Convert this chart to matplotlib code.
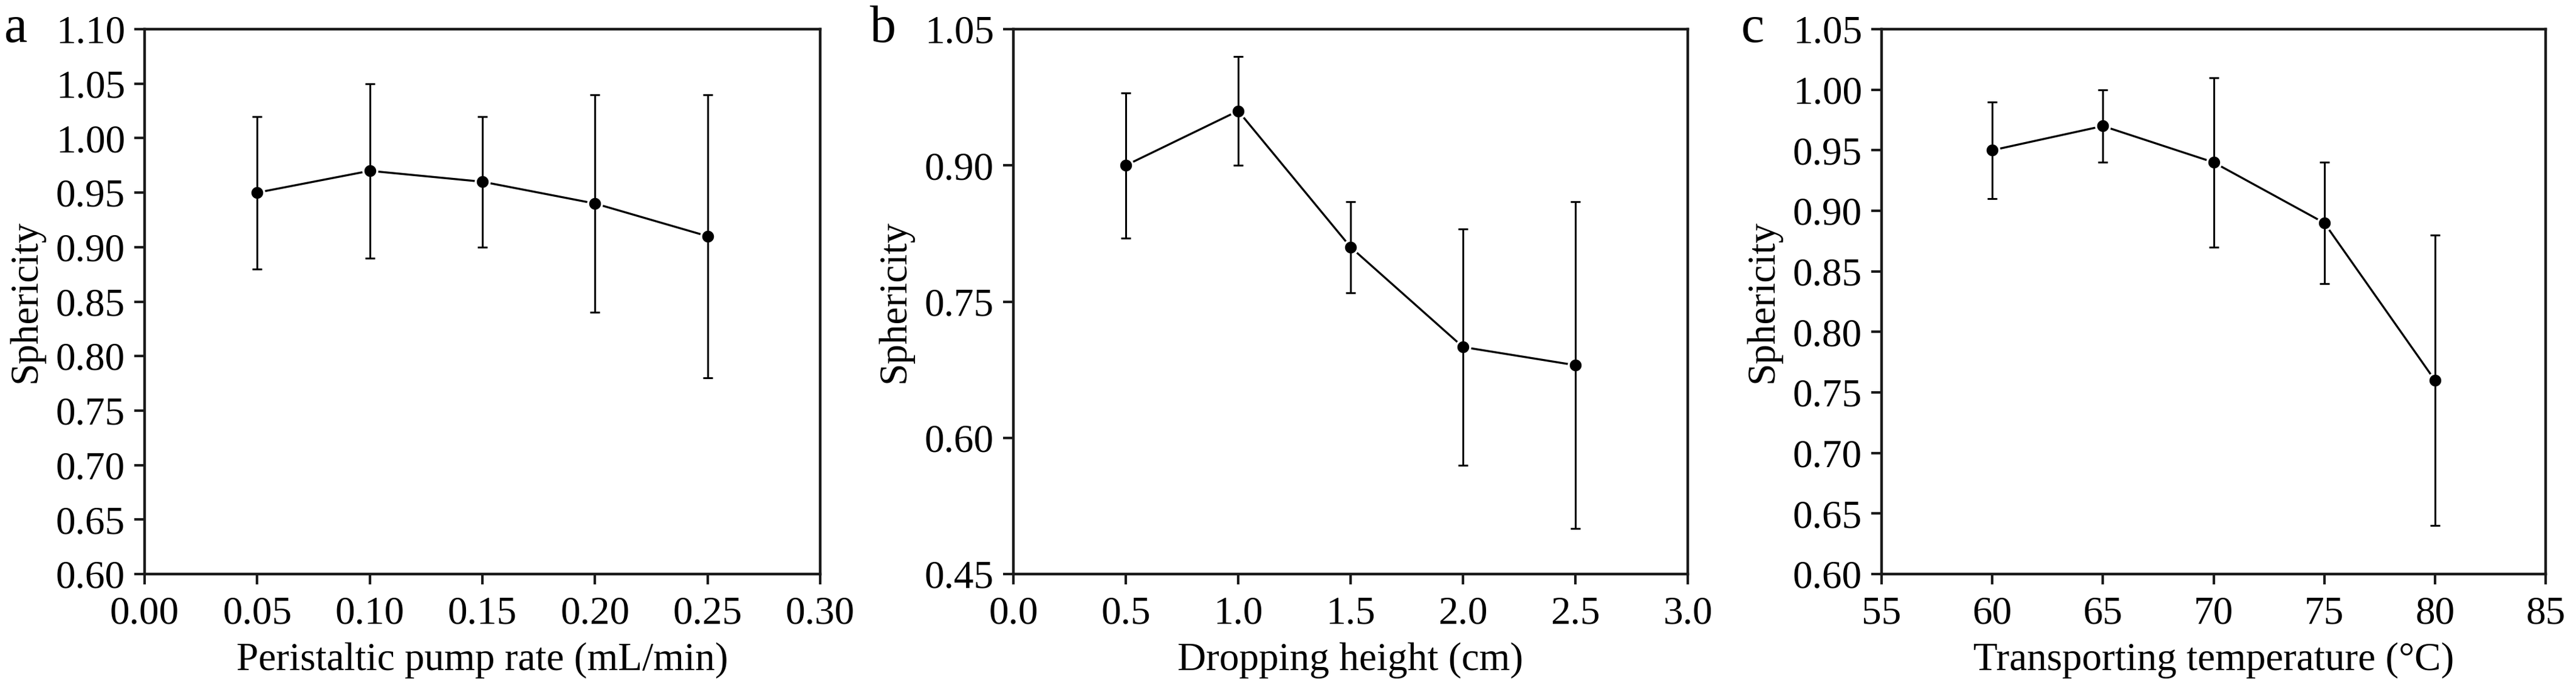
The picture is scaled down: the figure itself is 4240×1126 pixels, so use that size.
"""Sphericity vs. three process parameters (panels a, b, c)."""

import matplotlib

matplotlib.use("Agg")
import matplotlib.pyplot as plt
from matplotlib.ticker import FormatStrFormatter

plt.rcParams["font.family"] = "serif"
plt.rcParams["font.serif"] = ["Liberation Serif", "Nimbus Roman", "Times New Roman",
                              "DejaVu Serif"]
plt.rcParams["mathtext.fontset"] = "stix"

# panel a: peristaltic pump rate
pump_rate = [0.05, 0.10, 0.15, 0.20, 0.25]
pump_sph = [0.95, 0.97, 0.96, 0.94, 0.91]
pump_err = [0.07, 0.08, 0.06, 0.10, 0.13]

# panel b: dropping height
drop_height = [0.5, 1.0, 1.5, 2.0, 2.5]
drop_sph = [0.90, 0.96, 0.81, 0.70, 0.68]
drop_err = [0.08, 0.06, 0.05, 0.13, 0.18]

# panel c: transporting temperature
temp = [60, 65, 70, 75, 80]
temp_sph = [0.95, 0.97, 0.94, 0.89, 0.76]
temp_err = [0.04, 0.03, 0.07, 0.05, 0.12]

W, H = 4240, 1126
FS = 47

panels = [
    dict(letter="a", x=pump_rate, y=pump_sph, e=pump_err,
         xlabel="Peristaltic pump rate (mL/min)",
         xlim=(0, 0.30), xticks=[0.00, 0.05, 0.10, 0.15, 0.20, 0.25, 0.30], xfmt="%.2f",
         ylim=(0.60, 1.10), yticks=[0.60, 0.65, 0.70, 0.75, 0.80, 0.85, 0.90, 0.95, 1.00, 1.05, 1.10],
         box=(238, 1112)),
    dict(letter="b", x=drop_height, y=drop_sph, e=drop_err,
         xlabel="Dropping height (cm)",
         xlim=(0, 3.0), xticks=[0.0, 0.5, 1.0, 1.5, 2.0, 2.5, 3.0], xfmt="%.1f",
         ylim=(0.45, 1.05), yticks=[0.45, 0.60, 0.75, 0.90, 1.05],
         box=(1668, 1110)),
    dict(letter="c", x=temp, y=temp_sph, e=temp_err,
         xlabel="Transporting temperature (°C)",
         xlim=(55, 85), xticks=[55, 60, 65, 70, 75, 80, 85], xfmt="%d",
         ylim=(0.60, 1.05), yticks=[0.60, 0.65, 0.70, 0.75, 0.80, 0.85, 0.90, 0.95, 1.00, 1.05],
         box=(3097, 1093)),
]

fig = plt.figure(figsize=(W / 100, H / 100), dpi=100)
top_px, bot_px = 48, 945

for p in panels:
    left, width = p["box"]
    ax = fig.add_axes([left / W, 1 - bot_px / H, width / W, (bot_px - top_px) / H])
    ax.plot(p["x"], p["y"], color="black", lw=2.4, marker="o", ms=16.5,
            mfc="black", mec="white", mew=2.5, zorder=2)
    ax.errorbar(p["x"], p["y"], yerr=p["e"], fmt="none", ecolor="black",
                elinewidth=2.2, capsize=5.5, capthick=2.2, zorder=3)
    ax.set_xlim(*p["xlim"])
    ax.set_ylim(*p["ylim"])
    ax.set_xticks(p["xticks"])
    ax.set_yticks(p["yticks"])
    ax.xaxis.set_major_formatter(FormatStrFormatter(p["xfmt"]))
    ax.yaxis.set_major_formatter(FormatStrFormatter("%.2f"))
    ax.tick_params(axis="both", direction="out", length=12, width=3.0,
                   labelsize=FS, color="#1a1a1a")
    ax.tick_params(axis="x", pad=14)
    ax.tick_params(axis="y", pad=11)
    for s in ax.spines.values():
        s.set_linewidth(3.2)
        s.set_color("#1a1a1a")
    ax.set_xlabel(p["xlabel"], fontsize=FS, labelpad=12)
    ax.set_ylabel("Sphericity", fontsize=FS, labelpad=14)
    fig.text((left - 193) / W, 1 - 69 / H, p["letter"], fontsize=62,
             ha="right", va="baseline")

fig.savefig("out.png", dpi=100)
